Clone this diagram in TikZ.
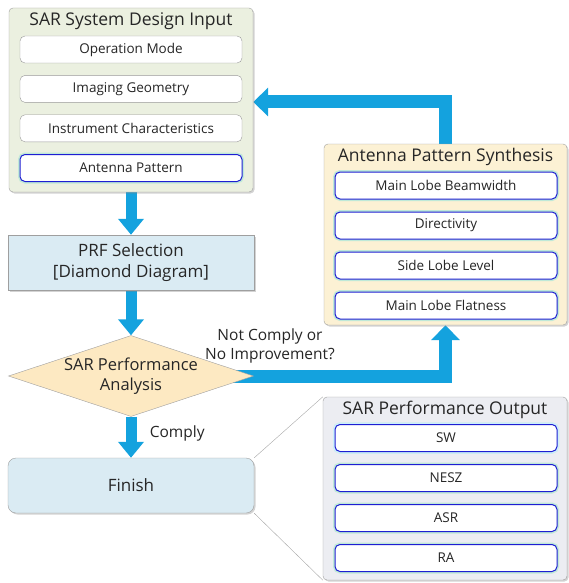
\documentclass[tikz,border=0pt]{standalone}
\usepackage{fontspec}
\setmainfont{Open Sans}
\usetikzlibrary{shapes.geometric,arrows.meta,positioning,shadows,backgrounds}

\definecolor{flowblue}{RGB}{20,162,222}
\definecolor{inputfill}{RGB}{235,240,224}
\definecolor{synthfill}{RGB}{252,241,212}
\definecolor{checkfill}{RGB}{253,233,194}
\definecolor{stepfill}{RGB}{218,235,243}
\definecolor{outfill}{RGB}{236,237,242}
\definecolor{itemblue}{RGB}{30,30,210}

\begin{document}
\begin{tikzpicture}[
    x=1pt, y=-1pt,
    group/.style={rectangle, rounded corners=4pt, draw=gray!75, minimum width=244pt, minimum height=183pt,
        drop shadow={shadow xshift=1.5pt, shadow yshift=-1.5pt, opacity=0.35}},
    grouptitle/.style={font=\fontsize{17.5}{20}\selectfont, text=black!85},
    item/.style={rectangle, rounded corners=5pt, draw=gray!80, fill=white, minimum width=222pt, minimum height=27pt,
        inner sep=0pt, font=\fontsize{13.5}{15}\selectfont, text=black!85},
    hitem/.style={item, draw=itemblue, line width=1pt, preaction={draw=cyan!40!green!25, line width=4pt}},
    block/.style={rectangle, draw=gray!75, fill=stepfill, minimum width=246pt, minimum height=55pt, align=center,
        font=\fontsize{17}{21}\selectfont, text=black!85,
        drop shadow={shadow xshift=1.5pt, shadow yshift=-1.5pt, opacity=0.35}},
    lbl/.style={font=\fontsize{15.5}{19.5}\selectfont, text=black!85, align=center},
    arrow/.style={-{Triangle[width=25pt,length=16pt]}, line width=11pt, draw=flowblue},
    loop/.style={-{Triangle[width=28pt,length=15pt]}, line width=13pt, draw=flowblue, line join=miter},
    callout/.style={draw=gray!70, thin}
]
\useasboundingbox (0,0) rectangle (568,583);

% Design input
\node[group, fill=inputfill, minimum height=184pt] (sdi) at (131,100) {};
\node[grouptitle, below=1pt of sdi.north] (sdit) {SAR System Design Input};
\node[item] (opm) at (131,49.5) {Operation Mode};
\node[item, below=12pt of opm] (geo) {Imaging Geometry};
\node[item, below=12pt of geo] (ins) {Instrument Characteristics};
\node[hitem, below=12pt of ins] (ant) {Antenna Pattern};

% PRF selection
\node[block] (prf) at (131,262.5) {PRF Selection\\{[Diamond Diagram]}};

% Performance analysis
\node[diamond, draw=gray!75, fill=checkfill, minimum width=245pt, minimum height=81pt, aspect=3.02, inner sep=0pt,
    align=center, font=\fontsize{16.5}{20}\selectfont, text=black!85] (dia) at (131,376) {SAR Performance\\Analysis};

% Finish
\node[block, rounded corners=8pt] (fin) at (131,485.5) {Finish};

% Antenna pattern synthesis
\node[group, fill=synthfill, minimum width=243pt, minimum height=181pt] (aps) at (445.5,234.5) {};
\node[grouptitle, below=1pt of aps.north] (apst) {Antenna Pattern Synthesis};
\node[hitem] (mlb) at (446,185.5) {Main Lobe Beamwidth};
\node[hitem, below=12pt of mlb] (dir) {Directivity};
\node[hitem, below=12pt of dir] (sll) {Side Lobe Level};
\node[hitem, below=12pt of sll] (mlf) {Main Lobe Flatness};

% Performance output
\node[group, fill=outfill] (spo) at (445,488.5) {};
\node[grouptitle, below=1pt of spo.north] (spot) {SAR Performance Output};
\node[hitem, preaction={draw=cyan!20, line width=4pt}] (sw) at (446,438) {SW};
\node[hitem, below=12pt of sw] (nesz) {NESZ};
\node[hitem, below=12pt of nesz] (asr) {ASR};
\node[hitem, below=12pt of asr] (ra) {RA};

% Labels
\node[lbl] (nc) at (270,346) {Not Comply or\\No Improvement?};

% Arrows
\begin{scope}[on background layer]
\draw[arrow] (sdi) -- (prf);
\draw[arrow] (prf) -- (dia);
\draw[arrow] (dia) -- node[lbl, pos=0.4, right=10pt] (cp) {Comply} (fin);
\draw[loop] ([xshift=-30pt]dia.east) -| (aps.south);
\draw[loop] (aps.north) |- ([yshift=-2pt]sdi.east);
\end{scope}

% Callout
\draw[callout] (fin.north east) -- (spo.north west);
\draw[callout] (fin.south east) -- (spo.south west);

\end{tikzpicture}
\end{document}
